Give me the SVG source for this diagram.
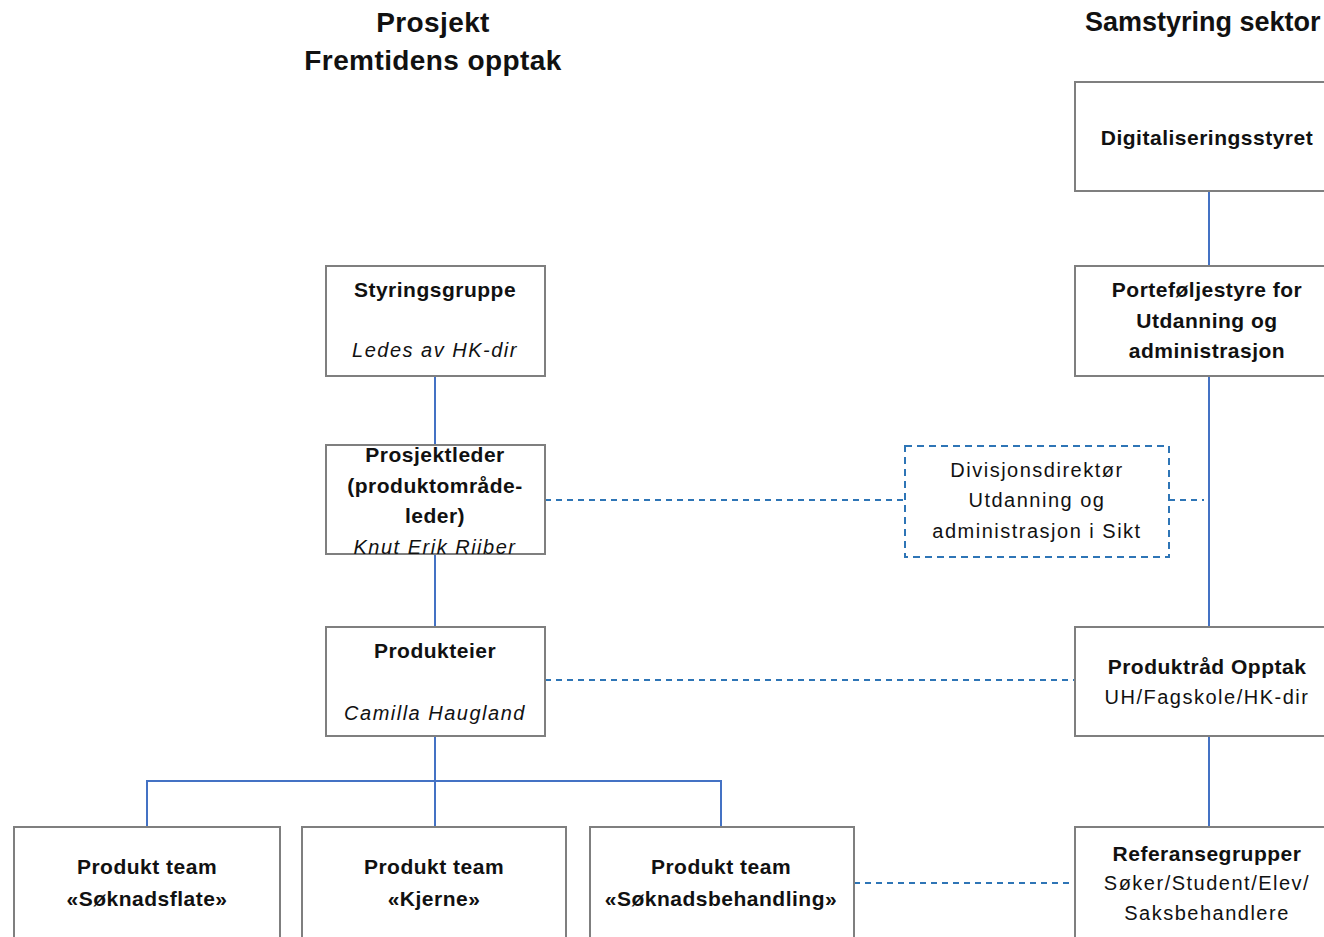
<svg xmlns="http://www.w3.org/2000/svg" width="1324" height="937" viewBox="0 0 1324 937">
<style>
.box{fill:#fff;stroke:#7f7f7f;stroke-width:2}
.dbox{fill:#fff;stroke:#2e75b6;stroke-width:2;stroke-dasharray:7 5}
.ln{stroke:#4472c4;stroke-width:2;fill:none}
.dl{stroke:#2e75b6;stroke-width:2;fill:none;stroke-dasharray:6 5}
text{font-family:"Liberation Sans",Arial,sans-serif;font-size:20px;letter-spacing:1.5px;fill:#111;text-anchor:middle;dominant-baseline:central}
.b{font-weight:bold;font-size:21px;letter-spacing:0.5px}
.i{font-style:italic}
.t{font-size:28px;font-weight:bold;letter-spacing:0.4px}
</style>
<rect width="1324" height="937" fill="#fff"/>
<g id="titles">
<text class="t" x="433" y="22">Prosjekt</text>
<text class="t" x="433" y="60">Fremtidens opptak</text>
<text class="t" x="1085" y="22" style="text-anchor:start;font-size:27px;letter-spacing:0">Samstyring sektor</text>
</g>
<g id="connectors">
<line class="ln" x1="435" y1="376" x2="435" y2="445"/>
<line class="ln" x1="435" y1="554" x2="435" y2="627"/>
<line class="ln" x1="435" y1="736" x2="435" y2="827"/>
<polyline class="ln" points="147,827 147,781 721,781 721,827"/>
<line class="ln" x1="1209" y1="191" x2="1209" y2="266"/>
<line class="ln" x1="1209" y1="376" x2="1209" y2="627"/>
<line class="ln" x1="1209" y1="736" x2="1209" y2="827"/>
<line class="dl" x1="545" y1="500" x2="905" y2="500"/>
<line class="dl" x1="1169" y1="500" x2="1204" y2="500"/>
<line class="dl" x1="545" y1="680" x2="1075" y2="680"/>
<line class="dl" x1="854" y1="883" x2="1075" y2="883"/>
</g>
<g id="styringsgruppe">
<rect class="box" x="326" y="266" width="219" height="110"/>
<text class="b" x="435" y="289">Styringsgruppe</text>
<text class="i" x="435" y="350">Ledes av HK-dir</text>
</g>
<g id="prosjektleder">
<rect class="box" x="326" y="445" width="219" height="109"/>
<text class="b" x="435" y="454">Prosjektleder</text>
<text class="b" x="435" y="485">(produktområde-</text>
<text class="b" x="435" y="515">leder)</text>
<text class="i" x="435" y="547">Knut Erik Riiber</text>
</g>
<g id="produkteier">
<rect class="box" x="326" y="627" width="219" height="109"/>
<text class="b" x="435" y="650">Produkteier</text>
<text class="i" x="435" y="713">Camilla Haugland</text>
</g>
<g id="team1">
<rect class="box" x="14" y="827" width="266" height="130"/>
<text class="b" x="147" y="866">Produkt team</text>
<text class="b" x="147" y="898">«Søknadsflate»</text>
</g>
<g id="team2">
<rect class="box" x="302" y="827" width="264" height="130"/>
<text class="b" x="434" y="866">Produkt team</text>
<text class="b" x="434" y="898">«Kjerne»</text>
</g>
<g id="team3">
<rect class="box" x="590" y="827" width="264" height="130"/>
<text class="b" x="721" y="866">Produkt team</text>
<text class="b" x="721" y="898">«Søknadsbehandling»</text>
</g>
<g id="divisjonsdirektor">
<rect class="dbox" x="905" y="446" width="264" height="111"/>
<text x="1037" y="470">Divisjonsdirektør</text>
<text x="1037" y="500">Utdanning og</text>
<text x="1037" y="531">administrasjon i Sikt</text>
</g>
<g id="digitaliseringsstyret">
<rect class="box" x="1075" y="82" width="268" height="109"/>
<text class="b" x="1207" y="137">Digitaliseringsstyret</text>
</g>
<g id="portefoljestyre">
<rect class="box" x="1075" y="266" width="268" height="110"/>
<text class="b" x="1207" y="289">Porteføljestyre for</text>
<text class="b" x="1207" y="320">Utdanning og</text>
<text class="b" x="1207" y="350">administrasjon</text>
</g>
<g id="produktrad">
<rect class="box" x="1075" y="627" width="268" height="109"/>
<text class="b" x="1207" y="666">Produktråd Opptak</text>
<text x="1207" y="697">UH/Fagskole/HK-dir</text>
</g>
<g id="referansegrupper">
<rect class="box" x="1075" y="827" width="268" height="130"/>
<text class="b" x="1207" y="853">Referansegrupper</text>
<text x="1207" y="883">Søker/Student/Elev/</text>
<text x="1207" y="913">Saksbehandlere</text>
</g>
</svg>
